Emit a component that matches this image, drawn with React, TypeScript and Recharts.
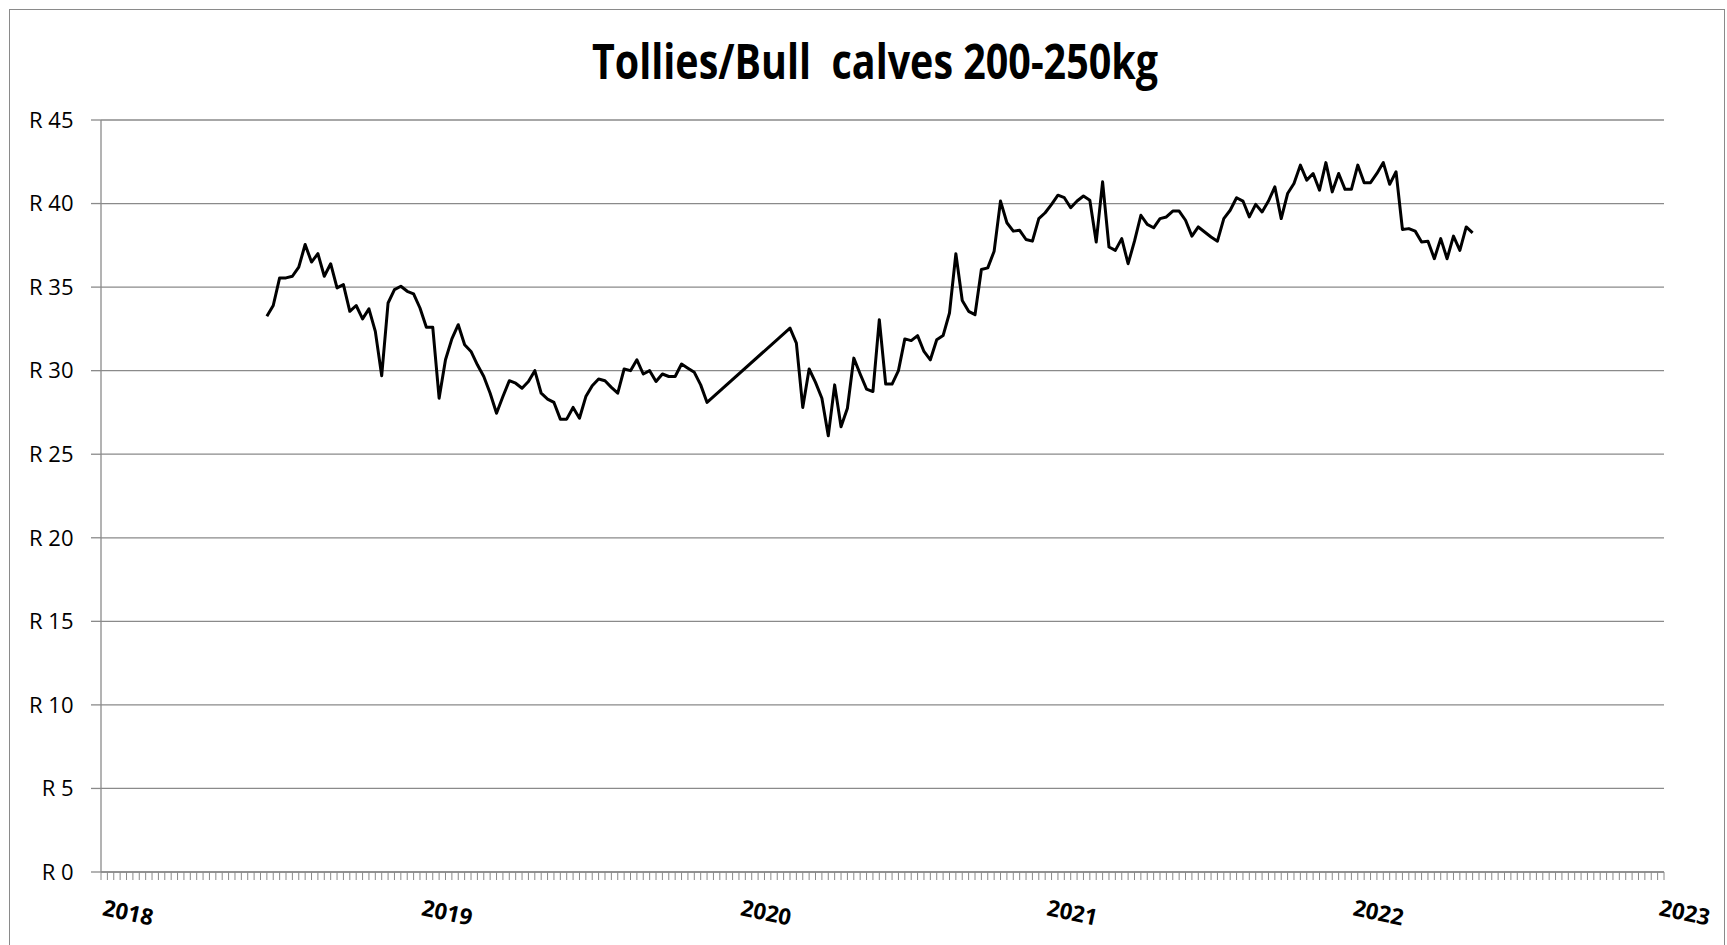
import React from 'react';
import { LineChart, Line, XAxis, YAxis, CartesianGrid, Customized } from 'recharts';

const TITLE = 'Tollies/Bull  calves 200-250kg';
const START_INDEX = 26;
const CATEGORY_COUNT = 245;

const prices: (number | null)[] = [
  33.25, 33.9, 35.55, 35.55, 35.65, 36.2, 37.55, 36.5, 37.0, 35.65,
  36.4, 34.95, 35.15, 33.55, 33.9, 33.1, 33.7, 32.35, 29.7, 34.05,
  34.85, 35.05, 34.75, 34.6, 33.75, 32.6, 32.6, 28.35, 30.65, 31.9,
  32.75, 31.55, 31.15, 30.35, 29.65, 28.65, 27.45, 28.45, 29.4, 29.25,
  28.95, 29.35, 30.0, 28.65, 28.3, 28.1, 27.1, 27.1, 27.8, 27.15,
  28.45, 29.1, 29.5, 29.4, 29.0, 28.65, 30.1, 30.0, 30.65, 29.8,
  30.0, 29.35, 29.8, 29.65, 29.65, 30.4, 30.15, 29.9, 29.15, 28.1,
  null, null, null, null, null, null, null, null, null, null, null, null,
  32.55, 31.65, 27.8, 30.1, 29.3, 28.35, 26.1, 29.15, 26.65, 27.75,
  30.75, 29.8, 28.9, 28.75, 33.05, 29.2, 29.2, 30.0, 31.9, 31.8,
  32.1, 31.15, 30.65, 31.85, 32.1, 33.45, 37.0, 34.2, 33.55, 33.35,
  36.05, 36.15, 37.15, 40.15, 38.85, 38.35, 38.4, 37.85, 37.75, 39.1,
  39.45, 39.95, 40.5, 40.35, 39.75, 40.15, 40.45, 40.2, 37.7, 41.3,
  37.4, 37.2, 37.9, 36.4, 37.75, 39.3, 38.75, 38.55, 39.1, 39.2,
  39.55, 39.55, 39.0, 38.05, 38.6, 38.3, 38.0, 37.75, 39.1, 39.6,
  40.35, 40.15, 39.2, 39.95, 39.5, 40.15, 41.0, 39.1, 40.6, 41.2,
  42.3, 41.4, 41.8, 40.8, 42.45, 40.7, 41.8, 40.85, 40.85, 42.3,
  41.25, 41.25, 41.8, 42.45, 41.15, 41.9, 38.45, 38.5, 38.35, 37.7,
  37.75, 36.7, 37.9, 36.7, 38.05, 37.2, 38.6, 38.25,
];

const yearLabels = ['2018', '2019', '2020', '2021', '2022', '2023'];
const yearIndices = [0, 50, 100, 148, 196, 244];
const yTicks = [0, 5, 10, 15, 20, 25, 30, 35, 40, 45];

const data = prices.map((v, k) => ({ i: START_INDEX + k, v }));
const xTicks = Array.from({ length: CATEGORY_COUNT + 1 }, (_, k) => k);

const GRAY = '#8a8a8a';
const FONT = '"Open Sans", "Liberation Sans", Arial, sans-serif';

const XTick = (props: any) => {
  const { x, payload } = props;
  const idx = yearIndices.indexOf(payload.value);
  if (idx < 0) return <g />;
  const tx = x + 0.5;
  const ty = 915;
  return (
    <text
      x={tx}
      y={ty}
      transform={`rotate(12 ${tx} ${ty})`}
      fontFamily={FONT}
      fontWeight={700}
      fontSize={22.5}
      fill="#000"
      textAnchor="start"
      textLength={51}
      lengthAdjust="spacingAndGlyphs"
    >
      {yearLabels[idx]}
    </text>
  );
};

const YTick = (props: any) => {
  const { y, payload } = props;
  return (
    <text
      x={73.5}
      y={y}
      dy={7.8}
      fontFamily={FONT}
      fontSize={22}
      fill="#000"
      textAnchor="end"
    >
      {`R ${payload.value}`}
    </text>
  );
};

const Title = () => (
  <text
    x={592}
    y={79}
    fontFamily={FONT}
    fontWeight={700}
    fontSize={48}
    fill="#000"
    textLength={566}
    lengthAdjust="spacingAndGlyphs"
    style={{ whiteSpace: 'pre' }}
  >
    {TITLE}
  </text>
);

export default function App() {
  return (
    <div style={{ position: 'fixed', left: 0, top: 0, width: 1727, height: 945, background: '#fff', overflow: 'hidden' }}>
      <LineChart
        width={1727}
        height={945}
        data={data}
        margin={{ top: 120, right: 63, bottom: 0, left: 0 }}
      >
        <CartesianGrid vertical={false} stroke={GRAY} strokeWidth={1.3} />
        <XAxis
          type="number"
          dataKey="i"
          domain={[0, CATEGORY_COUNT]}
          ticks={xTicks}
          interval={0}
          tickSize={8}
          height={73}
          axisLine={{ stroke: GRAY, strokeWidth: 1.3 }}
          tickLine={{ stroke: GRAY, strokeWidth: 1 }}
          tick={XTick}
          allowDataOverflow
        />
        <YAxis
          type="number"
          domain={[0, 45]}
          ticks={yTicks}
          interval={0}
          width={101}
          tickSize={10}
          axisLine={{ stroke: GRAY, strokeWidth: 1.3 }}
          tickLine={{ stroke: GRAY, strokeWidth: 1.3 }}
          tick={YTick}
        />
        <Line
          type="linear"
          dataKey="v"
          stroke="#000"
          strokeWidth={3}
          strokeLinejoin="round"
          dot={false}
          activeDot={false}
          connectNulls
          isAnimationActive={false}
        />
        <Customized component={Title} />
      </LineChart>
      <div
        style={{
          position: 'absolute',
          left: 9,
          top: 9,
          width: 1716,
          height: 945,
          border: `1px solid ${GRAY}`,
          boxSizing: 'border-box',
          pointerEvents: 'none',
        }}
      />
    </div>
  );
}
